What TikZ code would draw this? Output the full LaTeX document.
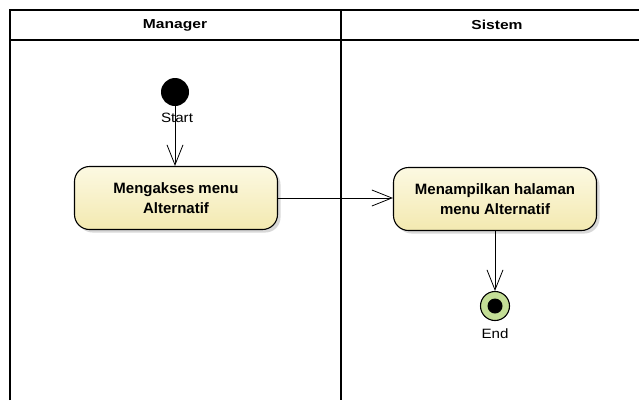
\documentclass[tikz,border=0pt]{standalone}
\usepackage{fontspec}
\setmainfont{Liberation Sans}
\newfontfamily\widefont{Liberation Sans}[FakeStretch=1.2]
\newfontfamily\labelfont{Liberation Sans}[FakeStretch=1.12]
\usetikzlibrary{arrows.meta,shadows}
\definecolor{actTop}{RGB}{252,249,226}
\definecolor{actBot}{RGB}{243,233,176}
\definecolor{endGreen}{RGB}{196,222,150}
\tikzset{
	activity/.style={draw=black,line width=1.1pt,rounded corners=15pt,minimum width=203pt,minimum height=63pt,
		top color=actTop,bottom color=actBot,align=center,
		font=\bfseries\fontsize{15}{19.5}\selectfont,
		drop shadow={shadow xshift=3pt,shadow yshift=-3pt,fill=black!30}},
	lane/.style={font=\widefont\bfseries\fontsize{13}{14}\selectfont},
	lbl/.style={font=\labelfont\fontsize{13.5}{15}\selectfont,inner sep=0pt},
	flow/.style={line width=0.8pt,-{Straight Barb[length=20pt,width=16pt]}}
}
\begin{document}
\begin{tikzpicture}[x=1pt,y=-1pt]
	\useasboundingbox (0,0) rectangle (639,400);
	% lanes
	\draw[line width=1.2pt] (10,400) -- (10,10) -- (639,10);
	\draw[line width=1.2pt] (10,40) -- (639,40);
	\draw[line width=1.2pt] (341,10) -- (341,400);
	\node[lane] (mgr) at (175,25){Manager};
	\node[lane] (sys) at (497,25){Sistem};
	% nodes
	\node[circle,fill=black,minimum size=28pt,inner sep=0pt] (start) at (175,92){};
	\node[lbl] (lstart) at (177,118){Start};
	\node[activity] (akses) at (176,198){Mengakses menu\\Alternatif};
	\node[activity] (tampil) at (495,199){Menampilkan halaman\\menu Alternatif};
	\node[circle,draw=black,line width=1.1pt,fill=endGreen,minimum size=29pt,inner sep=0pt] (stop) at (495,306){};
	\fill[black] (stop.center) circle (7.5pt);
	\node[lbl] (lstop) at (495,334){End};
	% flows
	\draw[flow] (start) -- (start |- akses.north);
	\draw[flow] (akses) -- (akses -| tampil.west);
	\draw[flow] (tampil.south) -- (stop);
\end{tikzpicture}
\end{document}
